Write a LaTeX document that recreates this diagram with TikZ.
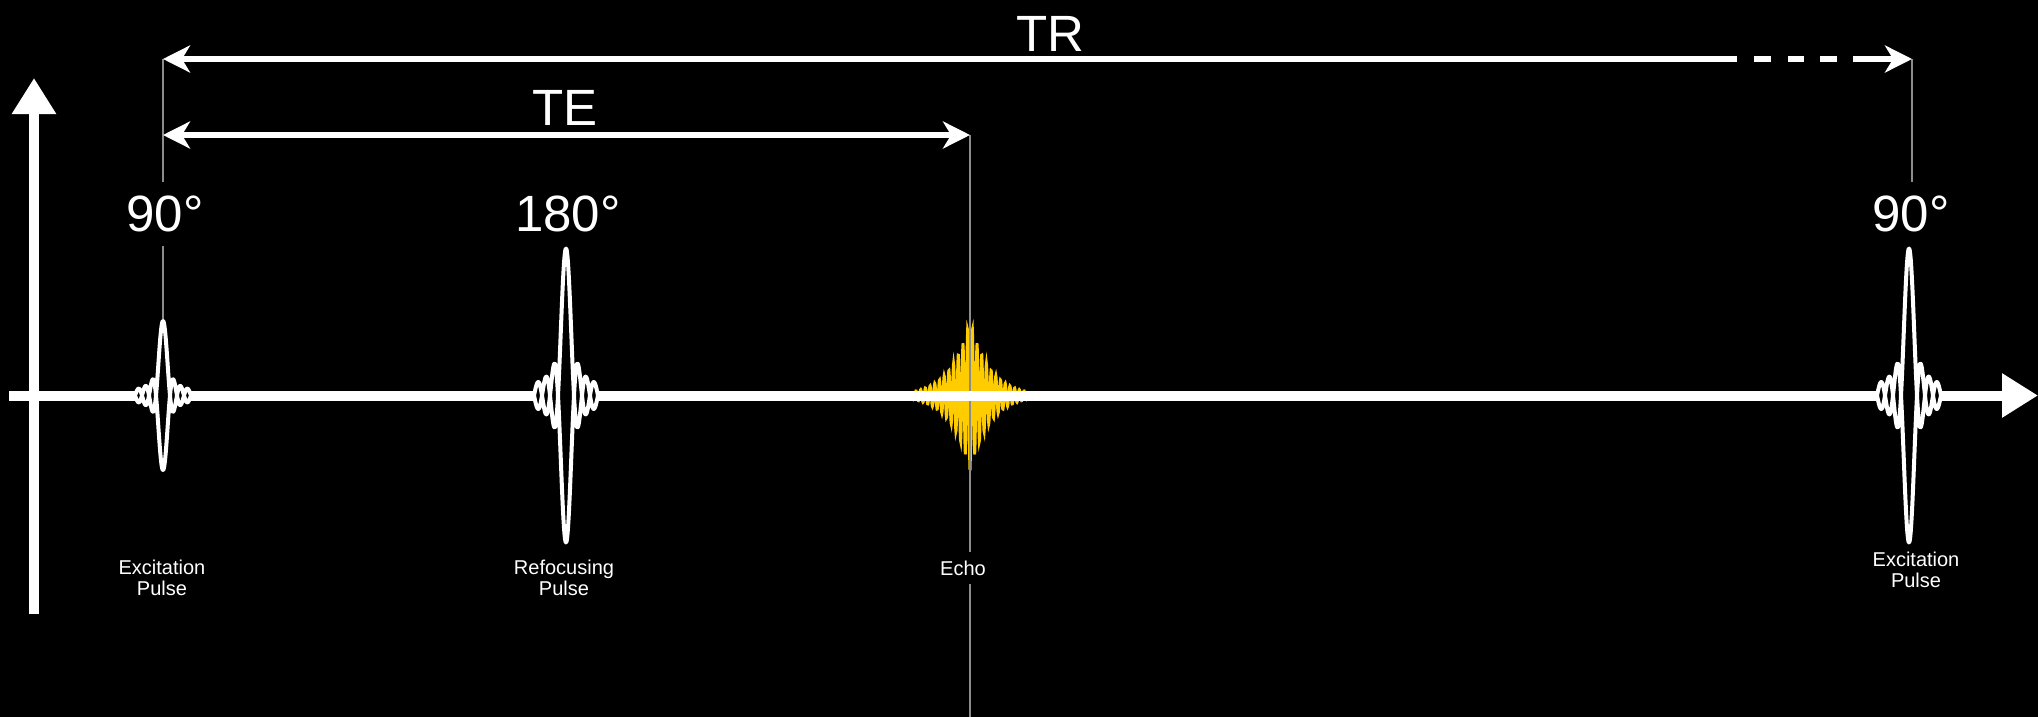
\documentclass[tikz,border=0pt]{standalone}
\usepackage{fontspec}
\setmainfont{Liberation Sans}
\usetikzlibrary{arrows.meta}
\definecolor{echoyellow}{RGB}{255,204,0}
\definecolor{guidegray}{RGB}{140,140,140}

\begin{document}
\begin{tikzpicture}[x=1pt,y=-1pt,>={Stealth[length=27pt,width=27pt,inset=8pt]},
 timeaxis/.style={white,line width=10pt,-{Triangle[length=36pt,width=42pt]}},
 dimline/.style={white,line width=6pt},
 guide/.style={guidegray,line width=2pt},
 pulse/.style={draw=white,fill=black,line width=4pt,line join=round},
 echotrace/.style={echoyellow,line width=2.8pt},
 deglabel/.style={white,font=\fontsize{51}{51}\selectfont,inner sep=14pt},
 pulsetext/.style={white,font=\fontsize{20}{21}\selectfont,align=center,inner sep=2pt}]
\useasboundingbox (0,0) rectangle (2038,717);
\fill[black] (0,0) rectangle (2038,717);

% labels
\node[deglabel] (deg90a) at (165,214) {90°};
\node[deglabel] (deg180) at (568,214) {180°};
\node[deglabel] (deg90b) at (1911,214) {90°};
\node[deglabel,inner sep=2pt] (trtext) at (1050,34) {TR};
\node[deglabel,inner sep=2pt] (tetext) at (565,108) {TE};
\node[pulsetext] (exc1) at (162,578) {Excitation\\Pulse};
\node[pulsetext] (refoc) at (564,578) {Refocusing\\Pulse};
\node[pulsetext,inner sep=8pt] (echolabel) at (963,568) {Echo};
\node[pulsetext] (exc2) at (1916,570) {Excitation\\Pulse};

\coordinate (trL) at (163,59);
\coordinate (trD) at (1737,59);
\coordinate (trR) at (1912,59);
\coordinate (teL) at (163,135);
\coordinate (teR) at (970,135);
\coordinate (echoEnd) at (970,717);
\coordinate (p1top) at (163,319);
\coordinate (xStart) at (9,395.5);
\coordinate (xEnd) at (2038,395.5);
\coordinate (yBot) at (34,614);
\coordinate (yTop) at (34,78);

% echo signal
\draw[echotrace] plot[domain=-57:57,samples=400] ({970+\x},{395.5+75*exp(-abs(\x)/19.5)*cos(\x*76.6)});

% guide lines
\draw[guide] (trL) -- (trL |- deg90a.north);
\draw[guide] (p1top |- deg90a.south) -- (p1top);
\draw[guide] (trR) -- (trR |- deg90b.north);
\draw[guide] (teR) -- (teR |- echolabel.north);
\draw[guide] (echoEnd |- echolabel.south) -- (echoEnd);

% axes
\draw[timeaxis] (xStart) -- (xEnd);
\draw[timeaxis] (yBot) -- (yTop);

% rf pulses
\foreach \cx/\amp/\zw in {163/74.5/7,566/147/8,1909/147/8}
  \filldraw[pulse] plot[domain=-4:4,samples=200] ({\cx+\zw*\x},{395.5+\amp*sin(180*\x)/(pi*\x)})
    -- plot[domain=4:-4,samples=200] ({\cx+\zw*\x},{395.5-\amp*sin(180*\x)/(pi*\x)}) -- cycle;

% timing arrows
\draw[dimline,<-] (trL) -- (trD);
\draw[dimline,->,dash pattern=on 0pt off 17pt on 17pt off 17pt on 16pt off 16pt on 17pt off 16pt on 300pt] (trD) -- (trR);
\draw[dimline,<->] (teL) -- (teR);
\end{tikzpicture}
\end{document}
